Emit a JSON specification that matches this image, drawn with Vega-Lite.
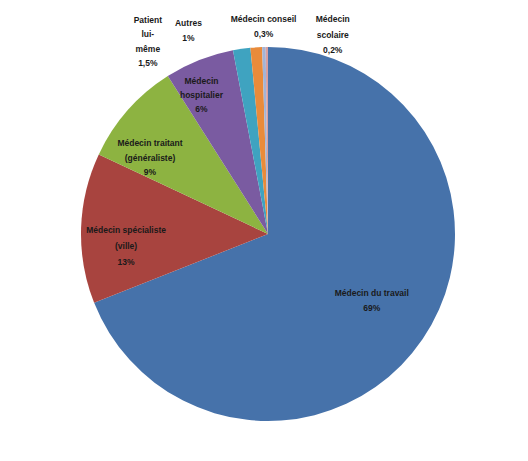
{
  "$schema": "https://vega.github.io/schema/vega-lite/v6.json",
  "width": 520,
  "height": 454,
  "autosize": "none",
  "padding": {"left": 8, "top": 7, "right": 0, "bottom": 0},
  "background": "white",
  "config": {"view": {"stroke": null}},
  "data": {
    "values": [
      {"k": 1, "cat": "Médecin du travail", "value": 69, "label": "Médecin du travail\n69%"},
      {"k": 2, "cat": "Médecin spécialiste (ville)", "value": 13, "label": "Médecin spécialiste\n(ville)\n13%"},
      {"k": 3, "cat": "Médecin traitant (généraliste)", "value": 9, "label": "Médecin traitant\n(généraliste)\n9%"},
      {"k": 4, "cat": "Médecin hospitalier", "value": 6, "label": "Médecin\nhospitalier\n6%"},
      {"k": 5, "cat": "Patient lui-même", "value": 1.5, "label": "Patient\nlui-\nmême\n1,5%"},
      {"k": 6, "cat": "Autres", "value": 1, "label": "Autres\n1%"},
      {"k": 7, "cat": "Médecin conseil", "value": 0.3, "label": "Médecin conseil\n0,3%"},
      {"k": 8, "cat": "Médecin scolaire", "value": 0.2, "label": "Médecin\nscolaire\n0,2%"}
    ]
  },
  "encoding": {
    "theta": {"field": "value", "type": "quantitative", "stack": true},
    "order": {"field": "k", "type": "quantitative"}
  },
  "layer": [
    {
      "mark": {"type": "arc", "outerRadius": 187},
      "encoding": {
        "color": {
          "field": "cat",
          "type": "nominal",
          "sort": {"field": "k"},
          "scale": {
            "domain": ["Médecin du travail", "Médecin spécialiste (ville)", "Médecin traitant (généraliste)", "Médecin hospitalier", "Patient lui-même", "Autres", "Médecin conseil", "Médecin scolaire"],
            "range": ["#4672AA", "#A8443F", "#8DB341", "#7A5BA1", "#3FA3C0", "#E98B3A", "#A3B4D6", "#D9A0A0"]
          },
          "legend": null
        }
      }
    },
    {
      "mark": {"type": "text", "radius": 123, "dx": 2, "dy": -10, "lineBreak": "\n", "font": "Liberation Sans", "fontWeight": "bold", "fontSize": 8.5, "fill": "#1a1a1a", "align": "center", "baseline": "middle", "lineHeight": 15},
      "encoding": {"text": {"condition": {"test": "datum.k == 1", "field": "label"}, "value": ""}}
    },
    {
      "mark": {"type": "text", "radius": 142, "dx": 0, "dy": 0, "lineBreak": "\n", "font": "Liberation Sans", "fontWeight": "bold", "fontSize": 8.5, "fill": "#1a1a1a", "align": "center", "baseline": "middle", "lineHeight": 16},
      "encoding": {"text": {"condition": {"test": "datum.k == 2", "field": "label"}, "value": ""}}
    },
    {
      "mark": {"type": "text", "radius": 140, "dx": -13, "dy": 2, "lineBreak": "\n", "font": "Liberation Sans", "fontWeight": "bold", "fontSize": 8.5, "fill": "#1a1a1a", "align": "center", "baseline": "middle", "lineHeight": 14.5},
      "encoding": {"text": {"condition": {"test": "datum.k == 3", "field": "label"}, "value": ""}}
    },
    {
      "mark": {"type": "text", "radius": 140, "dx": -15, "dy": -23, "lineBreak": "\n", "font": "Liberation Sans", "fontWeight": "bold", "fontSize": 8.5, "fill": "#1a1a1a", "align": "center", "baseline": "middle", "lineHeight": 14},
      "encoding": {"text": {"condition": {"test": "datum.k == 4", "field": "label"}, "value": ""}}
    },
    {
      "mark": {"type": "text", "radius": 200, "dx": -92, "dy": -16, "lineBreak": "\n", "font": "Liberation Sans", "fontWeight": "bold", "fontSize": 8.5, "fill": "#1a1a1a", "align": "center", "baseline": "middle", "lineHeight": 14.5},
      "encoding": {"text": {"condition": {"test": "datum.k == 5", "field": "label"}, "value": ""}}
    },
    {
      "mark": {"type": "text", "radius": 200, "dx": -67, "dy": -11, "lineBreak": "\n", "font": "Liberation Sans", "fontWeight": "bold", "fontSize": 8.5, "fill": "#1a1a1a", "align": "center", "baseline": "middle", "lineHeight": 15},
      "encoding": {"text": {"condition": {"test": "datum.k == 6", "field": "label"}, "value": ""}}
    },
    {
      "mark": {"type": "text", "radius": 200, "dx": 0, "dy": -15, "lineBreak": "\n", "font": "Liberation Sans", "fontWeight": "bold", "fontSize": 8.5, "fill": "#1a1a1a", "align": "center", "baseline": "middle", "lineHeight": 15},
      "encoding": {"text": {"condition": {"test": "datum.k == 7", "field": "label"}, "value": ""}}
    },
    {
      "mark": {"type": "text", "radius": 200, "dx": 66, "dy": -15, "lineBreak": "\n", "font": "Liberation Sans", "fontWeight": "bold", "fontSize": 8.5, "fill": "#1a1a1a", "align": "center", "baseline": "middle", "lineHeight": 15.5},
      "encoding": {"text": {"condition": {"test": "datum.k == 8", "field": "label"}, "value": ""}}
    }
  ]
}
